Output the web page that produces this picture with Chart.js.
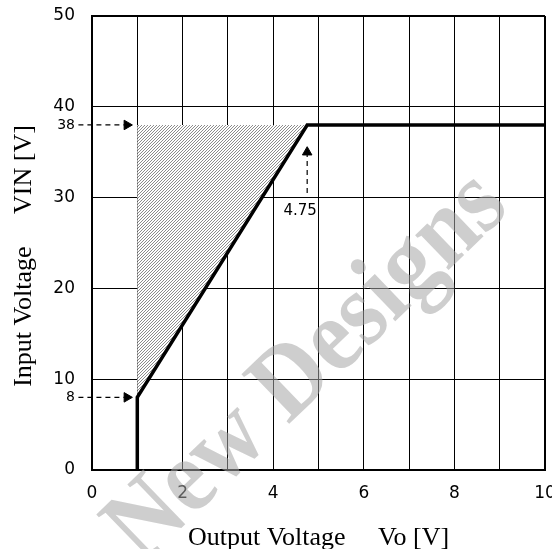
<!DOCTYPE html>
<html>
<head>
<meta charset="utf-8">
<script src="https://cdn.jsdelivr.net/npm/chart.js@4"></script>
<style>
  html, body { margin: 0; padding: 0; overflow: hidden; background: #fff; }
  #wrap { width: 570px; height: 560px; }
</style>
</head>
<body>
<div id="wrap"><canvas id="vin-chart"></canvas></div>
<script>
// operating boundary (thick line)
var boundaryX = [1, 1, 4.75, 10];
var boundaryY = [0, 8, 38, 38];
// hatched operating area
var areaX = [1, 1, 4.75];
var areaY = [8, 38, 38];
// dashed arrows
var arrow38X = [-0.3, 0.77];
var arrow38Y = [38, 38];
var arrow8X = [-0.3, 0.77];
var arrow8Y = [8, 8];
var arrowVoX = [4.75, 4.75];
var arrowVoY = [30.5, 35.0];
// axes
var yTickValues = [0, 8, 10, 20, 30, 38, 40, 50];
var yMarkedTicks = [8, 38];
var xLabelValues = [0, 2, 4, 6, 8, 10];
var voMarkLabel = "4.75";
var xTitle = "Output Voltage     Vo [V]";
var yTitle = "Input Voltage     VIN [V]    ";
var watermark = "New Designs";

function toPoints(xs, ys) {
    return xs.map(function (x, i) { return { x: x, y: ys[i] }; });
}

// fine diagonal hatch
function hatchPattern() {
    var c = document.createElement("canvas");
    c.width = 3; c.height = 3;
    var g = c.getContext("2d");
    g.fillStyle = "#ffffff";
    g.fillRect(0, 0, 3, 3);
    g.fillStyle = "#8c8c8c";
    for (var i = 0; i < 3; i++) g.fillRect(i, 2 - i, 1, 1);
    return g.createPattern(c, "repeat");
}

var extrasPlugin = {
    id: "extras",
    afterDatasetsDraw: function (chart) {
        var ctx = chart.ctx;
        var xs = chart.scales.x, ys = chart.scales.y;
        ctx.save();
        ctx.fillStyle = "#000";
        ctx.font = "15px 'DejaVu Sans'";
        ctx.textAlign = "center";
        ctx.textBaseline = "middle";
        ctx.fillText(voMarkLabel, xs.getPixelForValue(arrowVoX[0]) - 7, ys.getPixelForValue(30) + 14);
        ctx.restore();
    },
    afterDraw: function (chart) {
        var ctx = chart.ctx;
        ctx.save();
        ctx.translate(308, 368);
        ctx.rotate(-44 * Math.PI / 180);
        ctx.scale(0.9, 1);
        ctx.font = "bold 105px 'Liberation Serif'";
        ctx.fillStyle = "rgba(165,165,165,0.55)";
        ctx.textAlign = "center";
        ctx.textBaseline = "middle";
        ctx.fillText(watermark, 0, 0);
        ctx.restore();
    }
};

function arrowSet(xs, ys, rot) {
    return {
        data: toPoints(xs, ys),
        showLine: true,
        borderColor: "#000",
        borderWidth: 1.2,
        borderDash: [5, 4],
        pointRadius: [0, 5.5],
        pointStyle: "triangle",
        rotation: rot,
        pointBackgroundColor: "#000",
        pointBorderColor: "#000",
        pointBorderWidth: 1,
        clip: false,
        order: 1
    };
}

var canvasElement = document.getElementById("vin-chart");
var config = {
    type: "scatter",
    data: {
        datasets: [
            {
                data: toPoints(boundaryX, boundaryY),
                showLine: true,
                borderColor: "#000",
                borderWidth: 3.5,
                pointRadius: 0,
                order: 0
            },
            {
                data: toPoints(areaX, areaY),
                showLine: true,
                borderWidth: 0,
                borderColor: "rgba(0,0,0,0)",
                backgroundColor: hatchPattern(),
                fill: "shape",
                pointRadius: 0,
                order: 5
            },
            arrowSet(arrow38X, arrow38Y, 90),
            arrowSet(arrow8X, arrow8Y, 90),
            arrowSet(arrowVoX, arrowVoY, 0)
        ]
    },
    options: {
        responsive: true,
        maintainAspectRatio: false,
        animation: false,
        layout: { padding: { top: 0, right: 25, left: 0, bottom: 0 } },
        plugins: {
            legend: { display: false },
            tooltip: { enabled: false }
        },
        scales: {
            x: {
                type: "linear",
                min: 0,
                max: 10,
                afterFit: function (scale) { scale.height = 90; },
                ticks: {
                    stepSize: 1,
                    autoSkip: false,
                    maxRotation: 0,
                    padding: 13,
                    color: "#000",
                    font: { family: "DejaVu Sans", size: 17 },
                    callback: function (v) { return xLabelValues.indexOf(v) >= 0 ? String(v) : ""; }
                },
                grid: {
                    color: "#000",
                    lineWidth: function (c) { return c.tick && c.tick.value === 10 ? 2 : 1; },
                    drawTicks: false
                },
                border: { color: "#000", width: 2 },
                title: {
                    display: true,
                    text: xTitle,
                    color: "#000",
                    font: { family: "Liberation Serif", size: 26 },
                    padding: { top: 0, bottom: 6 }
                }
            },
            y: {
                type: "linear",
                min: 0,
                max: 50,
                afterFit: function (scale) {
                    scale.width = 92;
                    scale.paddingTop = 16;
                    scale.paddingBottom = 0;
                },
                afterBuildTicks: function (scale) {
                    scale.ticks = yTickValues.map(function (v) { return { value: v }; });
                },
                ticks: {
                    padding: 17,
                    color: "#000",
                    font: function (c) {
                        var small = c.tick && yMarkedTicks.indexOf(c.tick.value) >= 0;
                        return { family: "DejaVu Sans", size: small ? 14 : 17 };
                    }
                },
                grid: {
                    color: function (c) {
                        return c.tick && yMarkedTicks.indexOf(c.tick.value) >= 0 ? "rgba(0,0,0,0)" : "#000";
                    },
                    lineWidth: function (c) { return c.tick && c.tick.value === 50 ? 2 : 1; },
                    drawTicks: false
                },
                border: { color: "#000", width: 2 },
                title: {
                    display: true,
                    text: yTitle,
                    color: "#000",
                    font: { family: "Liberation Serif", size: 26 },
                    padding: { top: 9, bottom: 0 }
                }
            }
        }
    },
    plugins: [extrasPlugin]
};

var vinChart = new Chart(canvasElement, config);
</script>
</body>
</html>
